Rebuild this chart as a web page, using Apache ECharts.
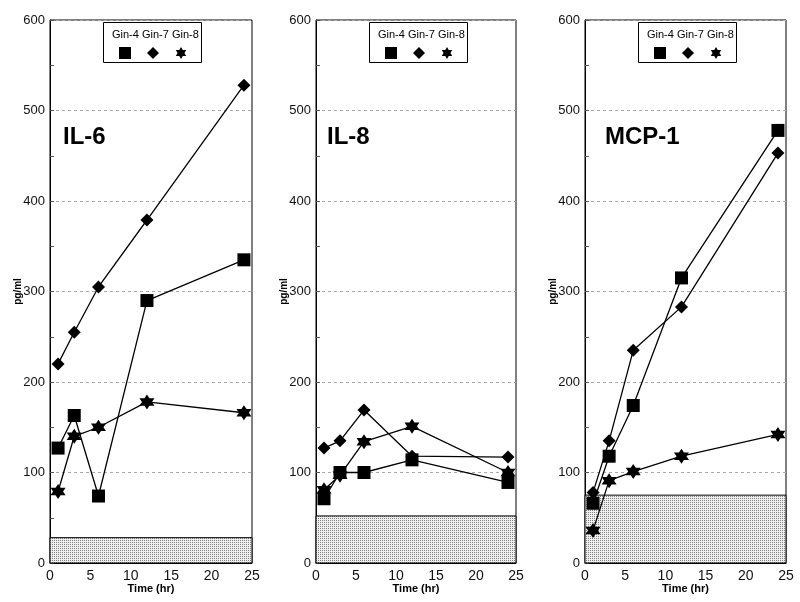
<!DOCTYPE html>
<html>
<head>
<meta charset="utf-8">
<script src="https://cdn.jsdelivr.net/npm/echarts@6/dist/echarts.min.js"></script>
<style>
  html, body { margin: 0; padding: 0; background: #fff; }
  #chart { width: 800px; height: 602px; }
</style>
</head>
<body>
<div id="chart"></div>
<script>
// sampling times (hr)
const times = [1, 3, 6, 12, 24]

// IL-6
const il6Gin4 = [127, 163, 74, 290, 335]
const il6Gin7 = [220, 255, 305, 379, 528]
const il6Gin8 = [79, 140, 150, 178, 166]
// IL-8
const il8Gin4 = [71, 100, 100, 114, 89]
const il8Gin7 = [127, 135, 169, 118, 117]
const il8Gin8 = [81, 97, 134, 151, 100]
// MCP-1
const mcpGin4 = [66, 118, 174, 315, 478]
const mcpGin7 = [78, 135, 235, 283, 453]
const mcpGin8 = [36, 91, 101, 118, 142]

const panelTitles = ['IL-6', 'IL-8', 'MCP-1']
const baselines = [28, 52, 75] // shaded background level
const seriesNames = ['Gin-4', 'Gin-7', 'Gin-8']
const yTicks = [0, 100, 200, 300, 400, 500, 600]
const xTicks = [0, 5, 10, 15, 20, 25]

const panels = [
  [il6Gin4, il6Gin7, il6Gin8],
  [il8Gin4, il8Gin7, il8Gin8],
  [mcpGin4, mcpGin7, mcpGin8]
]

const starPath = 'path://M0,-10L2.89,-5L8.66,-5L5.77,0L8.66,5L2.89,5L0,10L-2.89,5L-8.66,5L-5.77,0L-8.66,-5L-2.89,-5Z'
const symbols = ['rect', 'diamond', starPath]
const symbolSizes = [13, 13, 15]

// layout of the three plot boxes
const gridLeft = [50, 316, 585]
const gridWidth = [202, 200, 201]
const gridTop = 20
const gridHeight = 543
const titleOffset = [8, 6, 15]

// dotted fill for the shaded band
const makePattern = () => {
  const c = document.createElement('canvas')
  c.width = 2
  c.height = 2
  const ctx = c.getContext('2d')
  ctx.fillStyle = '#f0f0f0'
  ctx.fillRect(0, 0, 2, 2)
  ctx.fillStyle = '#808080'
  ctx.fillRect(0, 0, 1, 1)
  return c
}
const pattern = makePattern()

const font = '"Liberation Sans", Arial, sans-serif'

const getOption = () => {
  const grid = [], xAxis = [], yAxis = [], series = [], title = [], legend = [], graphic = []
  panels.forEach((vals, p) => {
    grid.push({
      left: gridLeft[p], width: gridWidth[p], top: gridTop, height: gridHeight,
      show: true, borderColor: '#000', borderWidth: 1, backgroundColor: 'transparent'
    })
    xAxis.push({
      gridIndex: p, type: 'value', min: xTicks[0], max: xTicks[xTicks.length - 1], interval: 5,
      name: 'Time (hr)', nameLocation: 'middle', nameGap: 20, nameMoveOverlap: false,
      nameTextStyle: { fontFamily: font, fontWeight: 'bold', fontSize: 11, color: '#000' },
      axisLine: { lineStyle: { color: '#000', width: 1 } },
      axisTick: { show: false },
      axisLabel: { fontFamily: font, fontSize: 14, color: '#111', margin: 6 },
      splitLine: { show: false }
    })
    yAxis.push({
      gridIndex: p, type: 'value', min: yTicks[0], max: yTicks[yTicks.length - 1], interval: 100,
      name: 'pg/ml', nameLocation: 'middle', nameGap: 27, nameMoveOverlap: false,
      nameTextStyle: { fontFamily: font, fontWeight: 'bold', fontSize: 10, color: '#000' },
      axisLine: { show: true, lineStyle: { color: '#000', width: 1 } },
      axisTick: { show: true, inside: true, length: 4, lineStyle: { color: '#555' } },
      minorTick: { show: true, splitNumber: 2, length: 4, lineStyle: { color: '#555' } },
      axisLabel: { fontFamily: font, fontSize: 13, color: '#111', margin: 5 },
      splitLine: { show: true, lineStyle: { color: '#aaa', type: [3, 3], width: 1 } }
    })
    title.push({
      text: panelTitles[p], left: gridLeft[p] + titleOffset[p], top: 120,
      textStyle: { fontFamily: font, fontWeight: 'bold', fontSize: 24, color: '#000' }
    })
    const boxX = gridLeft[p] + 53
    graphic.push({
      type: 'rect', left: boxX, top: 22, z: 10,
      shape: { width: 98, height: 40 },
      style: { fill: '#fff', stroke: '#000', lineWidth: 1 }
    }, {
      type: 'text', left: boxX + 9, top: 29, z: 11,
      style: { text: 'Gin-4 Gin-7 Gin-8', font: '11px ' + font, fill: '#000' }
    })
    legend.push({
      left: boxX + 11, top: 42, z: 12, selectedMode: false,
      itemWidth: 12, itemHeight: 12, itemGap: 16,
      formatter: () => '',
      data: seriesNames.map((n, i) => ({ name: n, icon: symbols[i], itemStyle: { color: '#000' } }))
    })
    vals.forEach((arr, s) => {
      const ser = {
        name: seriesNames[s], type: 'line', xAxisIndex: p, yAxisIndex: p,
        data: times.map((t, i) => [t, arr[i]]),
        symbol: symbols[s], symbolSize: symbolSizes[s],
        itemStyle: { color: '#000' },
        lineStyle: { color: '#000', width: 1.3 },
        animation: false, z: 3
      }
      if (s === 0) {
        ser.markArea = {
          silent: true,
          itemStyle: { color: { image: pattern, repeat: 'repeat' }, borderColor: '#000', borderWidth: 1 },
          data: [[{ yAxis: 0, xAxis: 0 }, { yAxis: baselines[p], xAxis: 25 }]]
        }
      }
      series.push(ser)
    })
  })
  return { backgroundColor: '#fff', animation: false, grid, xAxis, yAxis, title, legend, graphic, series }
}

const myChart = echarts.init(document.getElementById('chart'))
myChart.setOption(getOption())
</script>
</body>
</html>
